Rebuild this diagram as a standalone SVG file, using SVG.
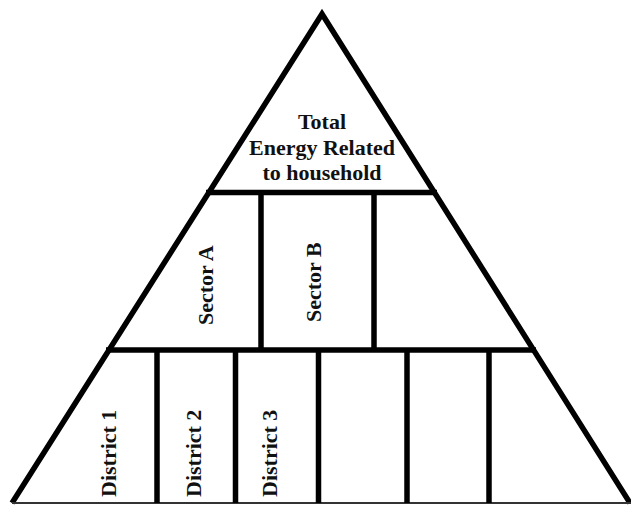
<svg xmlns="http://www.w3.org/2000/svg" width="631" height="506" viewBox="0 0 631 506">
<style>
.ln{stroke:#000;stroke-width:5.5;fill:none;stroke-linecap:butt}
.t{font-family:"Liberation Serif","Times New Roman",serif;font-weight:bold;font-size:22px;fill:#111}
</style>
<rect width="631" height="506" fill="#fff"/>
<g id="connectors">
<polyline class="ln" points="12,503 322,14 630,503" stroke-linejoin="miter"/>
<line x1="12" y1="503" x2="631" y2="503" stroke="#333" stroke-width="2"/>
<line class="ln" x1="206" y1="192.5" x2="437" y2="192.5"/>
<line class="ln" x1="106" y1="350" x2="536" y2="350"/>
<line class="ln" x1="261" y1="192.5" x2="261" y2="350"/>
<line class="ln" x1="374" y1="192.5" x2="374" y2="350"/>
<line class="ln" x1="157" y1="350" x2="157" y2="503"/>
<line class="ln" x1="235.5" y1="350" x2="235.5" y2="503"/>
<line class="ln" x1="318.5" y1="350" x2="318.5" y2="503"/>
<line class="ln" x1="407" y1="350" x2="407" y2="503"/>
<line class="ln" x1="489" y1="350" x2="489" y2="503"/>
</g>
<g id="top">
<text class="t" x="322" y="129" text-anchor="middle">Total</text>
<text class="t" x="322" y="154.5" text-anchor="middle">Energy Related</text>
<text class="t" x="322" y="180" text-anchor="middle">to household</text>
</g>
<g id="sectorA"><text class="t" transform="translate(213,325) rotate(-90)">Sector A</text></g>
<g id="sectorB"><text class="t" transform="translate(321,322) rotate(-90)">Sector B</text></g>
<g id="district1"><text class="t" transform="translate(116,497) rotate(-90)">District 1</text></g>
<g id="district2"><text class="t" transform="translate(201,497) rotate(-90)">District 2</text></g>
<g id="district3"><text class="t" transform="translate(277,497) rotate(-90)">District 3</text></g>
</svg>
